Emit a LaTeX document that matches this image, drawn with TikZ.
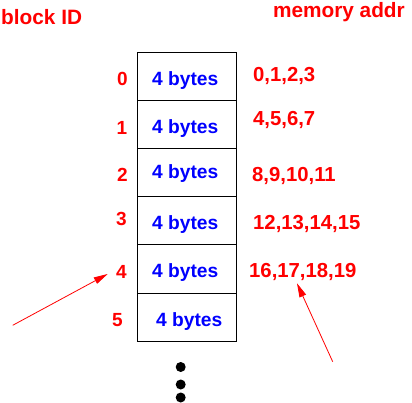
\documentclass[tikz,border=0pt]{standalone}
\usepackage{fontspec}
\setmainfont{Liberation Sans}
\usetikzlibrary{arrows.meta}
\definecolor{lblred}{RGB}{255,0,0}
\definecolor{lblblue}{RGB}{0,0,255}
\tikzset{
  cell/.style={draw=black, line width=1pt, minimum width=99.5pt, minimum height=48pt, inner sep=0pt, outer sep=0pt},
  head/.style={text=lblred, font=\fontsize{20.8}{25}\selectfont\bfseries, anchor=base west, inner sep=0pt},
  idlbl/.style={text=lblred, font=\fontsize{19}{23}\selectfont\bfseries, anchor=base west, inner sep=0pt},
  bytelbl/.style={text=lblblue, font=\fontsize{19.2}{23}\selectfont\bfseries, anchor=base west, inner sep=0pt},
  addrlbl/.style={text=lblred, font=\fontsize{20.3}{24}\selectfont\bfseries, anchor=base west, inner sep=0pt},
  pointer/.style={draw=lblred, line width=0.8pt, -{Triangle[length=14pt,width=7pt]}},
  dot/.style={circle, fill=black, minimum size=10pt, inner sep=0pt}
}
\begin{document}
\begin{tikzpicture}[x=1pt,y=-1pt]
\useasboundingbox (0,0) rectangle (412,403);
% header labels
\node[head] (hid) at (1,25) {block ID};
\node[head, anchor=base east] (haddr) at (405,18) {memory addr};
% cells
\node[cell] (c0) at (186.75,77) {};
\node[cell] (c1) at (186.75,125) {};
\node[cell] (c2) at (186.75,173) {};
\node[cell] (c3) at (186.75,221) {};
\node[cell] (c4) at (186.75,269) {};
\node[cell] (c5) at (186.75,317) {};
% byte labels
\node[bytelbl] (b0) at (152,86) {4 bytes};
\node[bytelbl] (b1) at (152,134) {4 bytes};
\node[bytelbl] (b2) at (152,178.3) {4 bytes};
\node[bytelbl] (b3) at (152,230) {4 bytes};
\node[bytelbl] (b4) at (152,277.7) {4 bytes};
\node[bytelbl] (b5) at (156,326) {4 bytes};
% block ids
\node[idlbl] (i0) at (117,86) {0};
\node[idlbl] (i1) at (116.5,134.3) {1};
\node[idlbl] (i2) at (117,181.7) {2};
\node[idlbl] (i3) at (116,226) {3};
\node[idlbl] (i4) at (116,278.3) {4};
\node[idlbl] (i5) at (112,326) {5};
% addresses
\node[addrlbl] (a0) at (253,81.7) {0,1,2,3};
\node[addrlbl] (a1) at (253,126) {4,5,6,7};
\node[addrlbl] (a2) at (252,181.7) {8,9,10,11};
\node[addrlbl] (a3) at (253,230) {12,13,14,15};
\node[addrlbl] (a4) at (249,277.7) {16,17,18,19};
% dots
\node[dot] (d1) at (180.7,367) {};
\node[dot] (d2) at (180.7,384.5) {};
\node[dot] (d3) at (180.7,397.5) {};
% arrows
\coordinate (p1s) at (12.7,325.3);
\coordinate (p1t) at (107.7,274);
\coordinate (p2s) at (332.7,361.7);
\coordinate (p2t) at (297,283.3);
\draw[pointer] (p1s) -- (p1t);
\draw[pointer] (p2s) -- (p2t);
\end{tikzpicture}
\end{document}
